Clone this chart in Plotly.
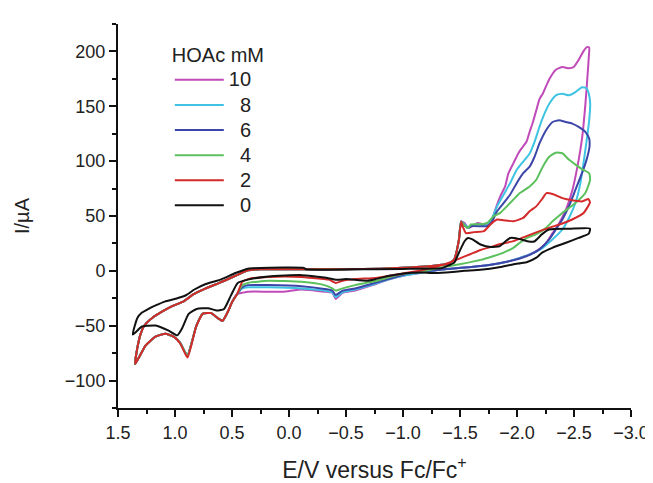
import plotly.graph_objects as go

# ---------------- data (E in V vs Fc/Fc+, I in uA) ----------------
concentrations = ["10", "8", "6", "4", "2", "0"]
colors = ["#c04ab8", "#3ec3e3", "#3c46a8", "#5cc05c", "#d42a2a", "#111111"]

# shared pieces of the acid-containing scans (they overlap in the picture)
E_fwd_left = [1.35, 1.33, 1.30, 1.27, 1.20, 1.11, 1.02, 0.92, 0.84, 0.73, 0.60, 0.47, 0.36, 0.25, 0.0, -0.5, -0.8, -1.0, -1.2, -1.34, -1.40, -1.45, -1.49, -1.51]
I_fwd_left = [-85, -70, -57, -50, -43, -37, -32, -27.5, -21.5, -16, -10.5, -4.5, 0.5, 1.5, 1.5, 1.5, 2, 2.8, 4, 5.5, 6.5, 10.6, 28, 45]
E_ret_left = [0.454, 0.497, 0.540, 0.583, 0.626, 0.683, 0.755, 0.812, 0.855, 0.890, 0.913, 0.956, 1.012, 1.085, 1.171, 1.257, 1.35]
I_ret_left = [-21, -28, -38, -45.5, -43, -38.5, -39, -50, -66, -77.5, -74, -65.5, -60, -57.3, -60, -68, -85]
E_ret_base = [-1.90, -1.77, -1.60, -1.42, -1.34]
I_ret_base = [8, 5.5, 3.5, 2, 1.2]

# 10 mM
E10_fwd = [-1.538, -1.572, -1.610, -1.653, -1.710, -1.753, -1.782, -1.810, -1.853, -1.896, -1.925, -1.968, -2.011, -2.040, -2.083, -2.111, -2.140, -2.169, -2.197, -2.226, -2.255, -2.283, -2.341, -2.398, -2.455, -2.498, -2.541, -2.584, -2.613, -2.633]
I10_fwd = [43.7, 39, 40.7, 43.7, 42.3, 42.3, 46.8, 55.8, 67.9, 77, 89, 98, 107, 111.6, 117.6, 126.7, 135.7, 146.3, 156.6, 161.4, 168.3, 174.7, 183.3, 185.8, 184.6, 185.8, 192.3, 200.3, 203.9, 203.6]
E10_ret = [-2.630, -2.620, -2.600, -2.572, -2.530, -2.487, -2.430, -2.370, -2.312, -2.255, -2.197, -2.111, -2.025]
I10_ret = [195, 180, 152, 122, 95, 74, 56, 43.4, 34.4, 25.3, 19.9, 15, 11.8]
E10_mid = [-1.17, -1.02, -0.87, -0.72, -0.58, -0.47, -0.41, -0.38, -0.31, -0.11, 0.05, 0.18, 0.36, 0.41]
I10_mid = [-1.5, -4, -8, -13.5, -18, -20, -25.6, -20, -19, -17, -19, -19, -19, -20]

# 8 mM
E8_fwd = [-1.538, -1.570, -1.596, -1.667, -1.739, -1.782, -1.825, -1.882, -1.939, -1.997, -2.054, -2.111, -2.154, -2.197, -2.240, -2.283, -2.341, -2.398, -2.455, -2.512, -2.570, -2.610, -2.631, -2.642]
I8_fwd = [42.5, 39.8, 41.4, 42.3, 41.4, 48.2, 58.8, 69.4, 79.9, 92, 99.5, 107, 117.6, 131.2, 143, 152.3, 160, 161.4, 160, 162.9, 167.4, 166.5, 161, 152.3]
E8_ret = [-2.633, -2.610, -2.590, -2.556, -2.512, -2.455, -2.398, -2.312, -2.226, -2.111, -2.025]
I8_ret = [137, 118, 103, 80, 61.8, 48, 37.7, 28.7, 21, 15, 11.8]
E8_mid = [-1.17, -1.02, -0.87, -0.72, -0.58, -0.47, -0.41, -0.38, -0.31, -0.11, 0.18, 0.36, 0.41]
I8_mid = [-1.5, -4, -8, -13, -17, -19.5, -24, -19.5, -18, -16, -15, -15, -16]

# 6 mM
E6_fwd = [-1.538, -1.570, -1.596, -1.681, -1.739, -1.782, -1.825, -1.882, -1.939, -1.997, -2.054, -2.111, -2.154, -2.197, -2.255, -2.312, -2.369, -2.427, -2.484, -2.541, -2.599, -2.633, -2.636]
I6_fwd = [41.6, 39, 40.7, 40.7, 40.7, 45.2, 54.3, 61.8, 69.4, 79.9, 89, 95, 104, 116.1, 128.2, 135.7, 137.3, 135.7, 134.2, 131.2, 126.7, 120.6, 113.1]
E6_ret = [-2.613, -2.570, -2.513, -2.455, -2.398, -2.341, -2.283, -2.197, -2.111, -2.025]
I6_ret = [102.3, 89, 74, 58.8, 46.8, 37.7, 28.7, 19.6, 14.5, 11.3]
E6_mid = [-1.17, -1.02, -0.87, -0.72, -0.58, -0.47, -0.41, -0.38, -0.31, -0.11, 0.18, 0.36, 0.41]
I6_mid = [-1, -3, -7.5, -12, -16, -18, -22, -18, -16.5, -14, -13, -13, -15]

# 4 mM
E4_fwd = [-1.538, -1.570, -1.596, -1.681, -1.739, -1.795, -1.853, -1.911, -1.968, -2.025, -2.111, -2.169, -2.226, -2.283, -2.341, -2.398, -2.455, -2.513, -2.570, -2.633, -2.641]
I4_fwd = [41.6, 39, 42.3, 42.5, 43.7, 49.8, 52.8, 58.8, 64.9, 70.9, 76.9, 83, 95, 104, 107.7, 107.2, 101.4, 96.8, 92.8, 89, 83]
E4_ret = [-2.599, -2.513, -2.398, -2.312, -2.255, -2.169, -2.083, -2.025, -1.968, -1.882, -1.796, -1.681, -1.509, -1.337]
I4_ret = [70.9, 61.8, 52.8, 45.2, 39.2, 33.5, 29.9, 25.6, 21, 16.6, 13.6, 10, 6.3, 3]
E4_mid = [-1.17, -1.02, -0.91, -0.73, -0.58, -0.47, -0.41, -0.38, -0.31, -0.11, 0.18, 0.36, 0.41]
I4_mid = [-0.5, -2.5, -5, -10, -13, -16, -18, -16, -13, -10, -9, -11, -13]

# 2 mM
E2_fwd = [-1.523, -1.552, -1.624, -1.710, -1.767, -1.825, -1.882, -1.968, -2.054, -2.111, -2.169, -2.226, -2.258, -2.312, -2.398, -2.484, -2.570, -2.627, -2.640]
I2_fwd = [40.7, 34.4, 35.3, 36.2, 42.3, 46.8, 46.2, 45.2, 48.2, 54.3, 58.8, 66.3, 70.9, 70.1, 66.3, 64.3, 63.3, 65.4, 62.4]
E2_ret = [-2.584, -2.484, -2.398, -2.312, -2.197, -2.083, -1.968, -1.853, -1.767, -1.681, -1.595, -1.509, -1.423, -1.337, -1.251, -1.166]
I2_ret = [52.8, 46.8, 43.2, 40.3, 36.2, 31.7, 27.1, 24.4, 21.7, 19, 15.4, 11.8, 8.1, 5, 2.7, 0.5]
E2_mid = [-1.02, -0.91, -0.76, -0.58, -0.47, -0.41, -0.35, -0.31, -0.11, 0.18, 0.36, 0.41]
I2_mid = [-2, -4, -6.5, -7.5, -9, -11, -8, -7.5, -5.5, -5.5, -7.5, -10]
I2_ret_left = [-21, -28, -38, -45.5, -43, -38.5, -39, -50, -67, -79, -75, -66, -60, -57.3, -60, -68, -85]

# 0 mM (no acid)
E0 = [1.37, 1.33, 1.29, 1.24, 1.17, 1.09, 0.98, 0.90, 0.83, 0.73, 0.60, 0.47, 0.36, 0.25, -0.13, -0.15, -0.56, -0.99, -1.34, -1.40, -1.45, -1.49, -1.54, -1.57, -1.61, -1.68, -1.77, -1.85, -1.90, -1.94, -2.00, -2.09, -2.15, -2.22, -2.28, -2.46, -2.64,
      -2.63, -2.54, -2.43, -2.31, -2.22, -2.17, -2.09, -2.03, -1.97, -1.83, -1.68, -1.54, -1.38, -1.25, -1.17, -1.02, -0.88, -0.76, -0.68, -0.50, -0.42, -0.31, -0.11, 0.18, 0.36, 0.45, 0.51, 0.57, 0.63, 0.71, 0.81, 0.88, 0.94, 0.98, 1.06, 1.17, 1.24, 1.29, 1.37]
I0 = [-58, -43, -38, -35, -31.5, -28, -25, -22, -17, -12, -8, -2, 2, 2.7, 2.7, 1.4, 1.4, 1.8, 2.5, 5, 7.5, 16.5, 27, 30, 28.7, 24, 21.7, 22.6, 27, 30, 29.6, 27, 26.7, 33.5, 37.7, 38.3, 38.6,
      34, 30, 25.6, 21, 16.6, 12, 8.1, 7, 6, 3, 1, 0, -1.4, -2, -1.5, -2.1, -4.5, -7.5, -9, -7.5, -8.1, -6, -3.9, -5.1, -8, -11, -22.6, -34.7, -36.2, -34.1, -34.7, -39.2, -52.8, -58.8, -54.3, -49.8, -50, -50.7, -58]

# ---------------- assemble loops ----------------
E10 = E_fwd_left + E10_fwd + E10_ret + E_ret_base + E10_mid + E_ret_left
I10 = I_fwd_left + I10_fwd + I10_ret + I_ret_base + I10_mid + I_ret_left
E8 = E_fwd_left + E8_fwd + E8_ret + E_ret_base + E8_mid + E_ret_left
I8 = I_fwd_left + I8_fwd + I8_ret + I_ret_base + I8_mid + I_ret_left
E6 = E_fwd_left + E6_fwd + E6_ret + E_ret_base + E6_mid + E_ret_left
I6 = I_fwd_left + I6_fwd + I6_ret + I_ret_base + I6_mid + I_ret_left
E4 = E_fwd_left + E4_fwd + E4_ret + E4_mid + E_ret_left
I4 = I_fwd_left + I4_fwd + I4_ret + I4_mid + I_ret_left
E2 = E_fwd_left + E2_fwd + E2_ret + E2_mid + E_ret_left
I2 = I_fwd_left + I2_fwd + I2_ret + I2_mid + I2_ret_left

series_E = [E10, E8, E6, E4, E2, E0]
series_I = [I10, I8, I6, I4, I2, I0]

FONT = "Liberation Sans, Arial, Helvetica, sans-serif"

def legend_name(c):
    pad = "\u00a0\u00a0" if len(c) == 1 else ""
    return '<span style="font-size:20px">' + pad + c + "</span>"

fig = go.Figure()
for c, col, xs, ys in zip(concentrations, colors, series_E, series_I):
    fig.add_trace(go.Scatter(
        x=xs, y=ys, mode="lines", name=legend_name(c),
        line=dict(color=col, width=2, shape="spline", smoothing=0.5),
    ))

axis_common = dict(
    showline=True, linecolor="#111", linewidth=2,
    ticks="outside", ticklen=7, tickwidth=1.5, tickcolor="#111",
    showgrid=False, zeroline=False,
    tickfont=dict(family=FONT, size=18, color="#222"),
)

fig.update_layout(
    width=653, height=483,
    margin=dict(l=110, r=20, t=16, b=79),
    paper_bgcolor="white", plot_bgcolor="white",
    font=dict(family=FONT, color="#222"),
    showlegend=True,
    legend=dict(
        x=0.101, y=0.968, xanchor="left", yanchor="top",
        bgcolor="rgba(0,0,0,0)", borderwidth=0,
        font=dict(family=FONT, size=17, color="#222"),
        title=dict(text="HOAc mM", font=dict(family=FONT, size=20, color="#222")),
        itemwidth=49,
    ),
    xaxis=dict(
        range=[1.5, -3.0], tick0=0, dtick=0.5, tickformat=".1f",
        minor=dict(ticks="outside", dtick=0.25, ticklen=4, tickwidth=1.5, tickcolor="#111"),
        title=dict(text="E/V versus Fc/Fc<sup>+</sup>", font=dict(family=FONT, size=23, color="#222"), standoff=20),
        **axis_common,
    ),
    yaxis=dict(
        range=[-125, 225], tick0=0, dtick=50,
        minor=dict(ticks="outside", dtick=25, ticklen=4, tickwidth=1.5, tickcolor="#111"),
        title=dict(text="I/\u00b5A", font=dict(family=FONT, size=20, color="#222"), standoff=30),
        **axis_common,
    ),
)

fig.write_html("out.html")
